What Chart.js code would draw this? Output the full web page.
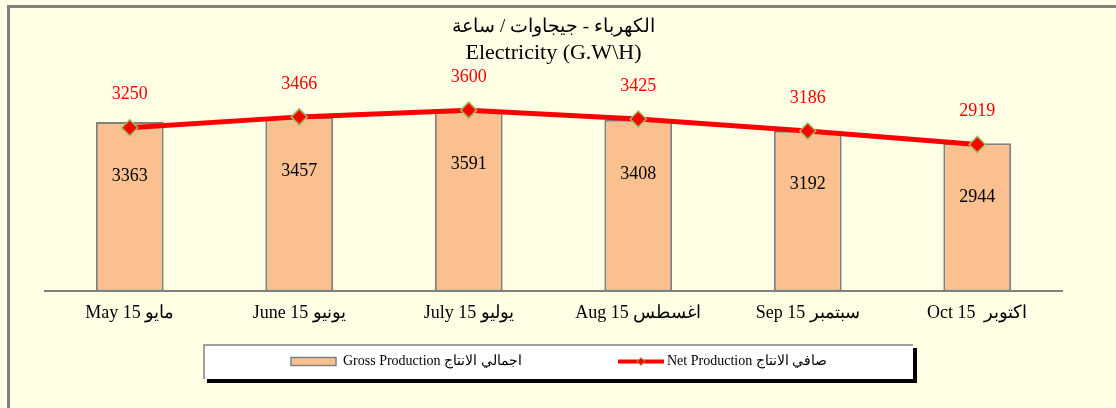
<!DOCTYPE html>
<html>
<head>
<meta charset="utf-8">
<script src="https://cdn.jsdelivr.net/npm/chart.js@4.4.1/dist/chart.umd.min.js"></script>
<style>
  html, body { margin: 0; padding: 0; background: #ffffe6; }
  #wrap { width: 1116px; height: 408px; position: relative; }
</style>
</head>
<body>
<div id="wrap"><canvas id="elec"></canvas></div>
<script>
// data
const months = ['May 15 مايو', 'June 15 يونيو', 'July 15 يوليو', 'Aug 15 اغسطس', 'Sep 15 سبتمبر', 'Oct 15  اكتوبر'];
const gross = [3363, 3457, 3591, 3408, 3192, 2944];
const net = [3250, 3466, 3600, 3425, 3186, 2919];
const titleAr = 'الكهرباء - جيجاوات / ساعة';
const titleEn = 'Electricity (G.W\\H)';
const grossLabel = 'Gross Production اجمالي الانتاج';
const netLabel = 'Net Production صافي الانتاج';
const yMax = 4000;

const BG = '#ffffe6';
const PEACH = '#fac090';
const GREY = '#808080';
const RED = '#ff0000';
const OLIVE = '#9bbb59';
const SERIF = "'Liberation Serif', 'Times New Roman', serif";

// cream background + grey frame on top and left
const framePlugin = {
  id: 'frame',
  beforeDraw(chart) {
    const c = chart.ctx;
    c.save();
    c.fillStyle = BG;
    c.fillRect(0, 0, chart.width, chart.height);
    c.fillStyle = GREY;
    c.fillRect(7, 5, chart.width - 7, 3);
    c.fillRect(7, 5, 3, chart.height - 5);
    c.restore();
  }
};

// value labels: gross inside the bars, net above the points
const valuePlugin = {
  id: 'values',
  afterDatasetsDraw(chart) {
    const c = chart.ctx;
    c.save();
    c.font = '18px ' + SERIF;
    c.textAlign = 'center';
    c.textBaseline = 'middle';
    c.fillStyle = '#000';
    chart.getDatasetMeta(0).data.forEach((el, i) => c.fillText(String(gross[i]), el.x, el.y + 54));
    c.fillStyle = RED;
    chart.getDatasetMeta(1).data.forEach((el, i) => c.fillText(String(net[i]), el.x, el.y - 33));
    c.restore();
  }
};

// boxed legend with a black drop shadow
const legendPlugin = {
  id: 'legendBox',
  afterDraw(chart) {
    const c = chart.ctx;
    const x0 = 203, y0 = 344, x1 = 913, y1 = 379;
    const cy = (y0 + y1) / 2;
    c.save();
    c.fillStyle = '#000';
    c.fillRect(x0 + 4, y0 + 4, x1 - x0, y1 - y0);
    c.fillStyle = '#fff';
    c.fillRect(x0, y0, x1 - x0, y1 - y0);
    c.fillStyle = '#a0a0a0';
    c.fillRect(x0, y0, x1 - x0, 2);
    c.fillRect(x0, y0, 2, y1 - y0);

    // gross sample
    c.fillStyle = PEACH;
    c.strokeStyle = GREY;
    c.lineWidth = 1.5;
    c.fillRect(291, cy - 4, 45, 8);
    c.strokeRect(291, cy - 4, 45, 8);

    // net sample
    c.strokeStyle = RED;
    c.lineWidth = 4;
    c.beginPath();
    c.moveTo(618, cy);
    c.lineTo(664, cy);
    c.stroke();
    c.fillStyle = RED;
    c.strokeStyle = OLIVE;
    c.lineWidth = 1;
    c.beginPath();
    c.moveTo(641, cy - 4); c.lineTo(645, cy); c.lineTo(641, cy + 4); c.lineTo(637, cy); c.closePath();
    c.fill(); c.stroke();

    c.fillStyle = '#000';
    c.font = '14px ' + SERIF;
    c.textAlign = 'left';
    c.textBaseline = 'middle';
    c.fillText(grossLabel, 343, cy);
    c.fillText(netLabel, 667, cy);
    c.restore();
  }
};

new Chart(document.getElementById('elec'), {
  type: 'bar',
  data: {
    labels: months,
    datasets: [
      { label: 'Gross Production', data: gross, backgroundColor: PEACH,
        borderColor: GREY, borderWidth: 2, borderSkipped: false,
        barPercentage: 0.4, categoryPercentage: 1.0, order: 2 },
      { label: 'Net Production', type: 'line', data: net,
        borderColor: RED, borderWidth: 5, tension: 0, fill: false,
        pointStyle: 'rectRot', pointRadius: 8, pointBackgroundColor: RED,
        pointBorderColor: OLIVE, pointBorderWidth: 1.5, order: 1 }
    ]
  },
  options: {
    responsive: true,
    maintainAspectRatio: false,
    animation: false,
    layout: { padding: { left: 45, right: 54, top: 0, bottom: 73 } },
    scales: {
      x: {
        grid: { display: false, drawTicks: false },
        border: { display: true, color: GREY, width: 2 },
        ticks: { color: '#000', font: { family: SERIF, size: 18 }, padding: 11, maxRotation: 0 }
      },
      y: { display: false, min: 0, max: yMax }
    },
    plugins: {
      legend: { display: false },
      tooltip: { enabled: false },
      title: {
        display: true,
        text: titleAr,
        color: '#000',
        font: { family: SERIF, size: 19, weight: 'normal', lineHeight: 1.37 },
        padding: { top: 14, bottom: 0 }
      },
      subtitle: {
        display: true,
        text: titleEn,
        color: '#000',
        font: { family: SERIF, size: 22, weight: 'normal', lineHeight: 1.18 },
        padding: { top: 0, bottom: 24 }
      }
    }
  },
  plugins: [framePlugin, valuePlugin, legendPlugin]
});
</script>
</body>
</html>
